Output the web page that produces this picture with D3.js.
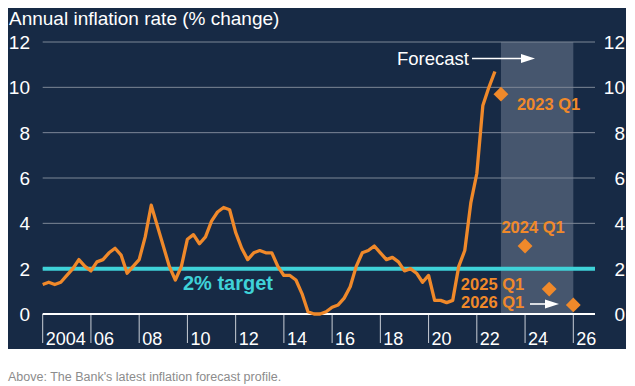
<!DOCTYPE html>
<html>
<head>
<meta charset="utf-8">
<script src="https://cdn.jsdelivr.net/npm/d3@7/dist/d3.min.js"></script>
<style>
  body { margin: 0; background: #fff; }
  svg { display: block; font-family: 'Liberation Sans', Arial, sans-serif; }
</style>
</head>
<body>
<svg class="chart" width="635" height="386"></svg>
<script>
'use strict'

// annual CPI inflation, quarterly, one row of four per year
const years = [2004, 2005, 2006, 2007, 2008, 2009, 2010, 2011, 2012, 2013,
  2014, 2015, 2016, 2017, 2018, 2019, 2020, 2021, 2022]
const cpi = [
  1.3, 1.4, 1.3, 1.4,
  1.7, 2.0, 2.4, 2.1,
  1.9, 2.3, 2.4, 2.7,
  2.9, 2.6, 1.8, 2.1,
  2.4, 3.4, 4.8, 3.9,
  3.0, 2.1, 1.5, 2.1,
  3.3, 3.5, 3.1, 3.4,
  4.1, 4.5, 4.7, 4.6,
  3.6, 2.9, 2.4, 2.7,
  2.8, 2.7, 2.7, 2.1,
  1.7, 1.7, 1.5, 0.9,
  0.1, 0.0, 0.0, 0.1,
  0.3, 0.4, 0.7, 1.2,
  2.1, 2.7, 2.8, 3.0,
  2.7, 2.4, 2.5, 2.3,
  1.9, 2.0, 1.8, 1.4,
  1.7, 0.6, 0.6, 0.5,
  0.6, 2.1, 2.8, 4.9,
  6.2, 9.2, 10.0, 10.7
]

// forecast points
const forecastLabels = ['2023 Q1', '2024 Q1', '2025 Q1', '2026 Q1']
const forecastYears = [2023, 2024, 2025, 2026]
const forecastValues = [9.7, 3.0, 1.1, 0.4]

const target = 2
const yTicks = [0, 2, 4, 6, 8, 10, 12]
const xTicks = [2004, 2006, 2008, 2010, 2012, 2014, 2016, 2018, 2020, 2022, 2024, 2026]
const xTickLabels = ['2004', '06', '08', '10', '12', '14', '16', '18', '20', '22', '24', '26']
const forecastBand = [2023, 2026]

window.onload = function() {
  const navy = '#172a45',
    orange = '#f0892a',
    cyan = '#3fd2d8',
    grid = '#7d8797'

  const x = d3.scaleLinear()
      .domain([2004, 2026])
      .range([42.7, 573.3]),
    y = d3.scaleLinear()
      .domain([0, 12])
      .range([314, 42]),
    xEnd = 2026.9   // where the grid stops, past the last tick

  const svg = d3.select('.chart')

  // dark panel
  svg.append('rect')
    .attr('x', 8).attr('y', 8)
    .attr('width', 618).attr('height', 341)
    .attr('fill', navy)

  svg.append('text')
    .attr('x', 9).attr('y', 25)
    .attr('fill', '#fff')
    .attr('font-size', 19)
    .text('Annual inflation rate (% change)')

  // forecast band
  svg.append('rect')
    .attr('x', x(forecastBand[0]))
    .attr('y', y(12))
    .attr('width', x(forecastBand[1]) - x(forecastBand[0]))
    .attr('height', y(0) - y(12))
    .attr('fill', '#46566e')

  // gridlines (not the zero line)
  svg.append('g')
    .selectAll('line')
    .data(yTicks.filter(d => d > 0))
    .enter().append('line')
    .attr('x1', x(2004)).attr('x2', x(xEnd))
    .attr('y1', d => y(d)).attr('y2', d => y(d))
    .attr('stroke', grid)
    .attr('stroke-width', 1)

  // y labels both sides
  const yLabels = svg.append('g')
    .attr('fill', '#fff')
    .attr('font-size', 19)
    .attr('text-anchor', 'end')
  yLabels.selectAll('.left')
    .data(yTicks)
    .enter().append('text')
    .attr('class', 'left')
    .attr('x', 30)
    .attr('y', d => y(d))
    .attr('dy', '0.36em')
    .text(d => d)
  yLabels.selectAll('.right')
    .data(yTicks)
    .enter().append('text')
    .attr('class', 'right')
    .attr('x', 625)
    .attr('y', d => y(d))
    .attr('dy', '0.36em')
    .text(d => d)

  // x axis: tick lines with labels to the right of each
  const xAxis = svg.append('g')
  xAxis.selectAll('line')
    .data(xTicks)
    .enter().append('line')
    .attr('x1', d => x(d)).attr('x2', d => x(d))
    .attr('y1', y(0)).attr('y2', y(0) + 29)
    .attr('stroke', '#c9ced6')
    .attr('stroke-width', 1)
  xAxis.selectAll('text')
    .data(xTicks)
    .enter().append('text')
    .attr('x', d => x(d) + 3)
    .attr('y', y(0) + 31)
    .attr('fill', '#fff')
    .attr('font-size', 18)
    .text((d, i) => xTickLabels[i])

  svg.append('line')
    .attr('x1', x(2004)).attr('x2', x(xEnd))
    .attr('y1', y(0)).attr('y2', y(0))
    .attr('stroke', '#fff')
    .attr('stroke-width', 2)

  // 2% target
  svg.append('line')
    .attr('x1', x(2004)).attr('x2', x(xEnd))
    .attr('y1', y(target)).attr('y2', y(target))
    .attr('stroke', cyan)
    .attr('stroke-width', 4)
  svg.append('text')
    .attr('x', 183).attr('y', 290)
    .attr('fill', cyan)
    .attr('font-size', 20)
    .attr('font-weight', 'bold')
    .text('2% target')

  // inflation line, quarters plotted at the start of each quarter
  const series = cpi.map((v, i) => [years[Math.floor(i / 4)] + (i % 4) / 4, v])
  const line = d3.line()
    .x(d => x(d[0]))
    .y(d => y(d[1]))
  svg.append('path')
    .datum(series)
    .attr('d', line)
    .attr('fill', 'none')
    .attr('stroke', orange)
    .attr('stroke-width', 3.3)
    .attr('stroke-linejoin', 'round')

  // forecast diamonds
  const diamond = d3.symbol().type(d3.symbolSquare).size(110)
  svg.append('g')
    .selectAll('path')
    .data(forecastValues)
    .enter().append('path')
    .attr('d', diamond)
    .attr('transform', (d, i) => 'translate(' + [x(forecastYears[i]), y(d)] + ') rotate(45)')
    .attr('fill', orange)

  // forecast labels: offset from their diamond, anchor
  const labelPos = [[16, 16, 'start'], [8, -13, 'middle'], [-25, 1, 'end'], [-49, 3, 'end']]
  svg.append('g')
    .selectAll('text')
    .data(forecastLabels)
    .enter().append('text')
    .attr('x', (d, i) => x(forecastYears[i]) + labelPos[i][0])
    .attr('y', (d, i) => y(forecastValues[i]) + labelPos[i][1])
    .attr('text-anchor', (d, i) => labelPos[i][2])
    .attr('fill', orange)
    .attr('font-size', 16.5)
    .attr('font-weight', 'bold')
    .text(d => d)

  svg.append('text')
    .attr('x', 397).attr('y', 65)
    .attr('fill', '#fff')
    .attr('font-size', 18.5)
    .text('Forecast')

  const arrow = function(x1, x2, yy) {
    svg.append('line')
      .attr('x1', x1).attr('x2', x2 - 12)
      .attr('y1', yy).attr('y2', yy)
      .attr('stroke', '#fff')
      .attr('stroke-width', 1.6)
    svg.append('path')
      .attr('d', 'M' + (x2 - 14) + ',' + (yy - 4.5) + 'L' + x2 + ',' + yy + 'L' + (x2 - 14) + ',' + (yy + 4.5) + 'Z')
      .attr('fill', '#fff')
  }
  arrow(472, 535, 58.5)
  arrow(530, 559, 304)

  svg.append('text')
    .attr('x', 8).attr('y', 381)
    .attr('fill', '#8c8c8c')
    .attr('font-size', 12.5)
    .text("Above: The Bank's latest inflation forecast profile.")
}
</script>
</body>
</html>
